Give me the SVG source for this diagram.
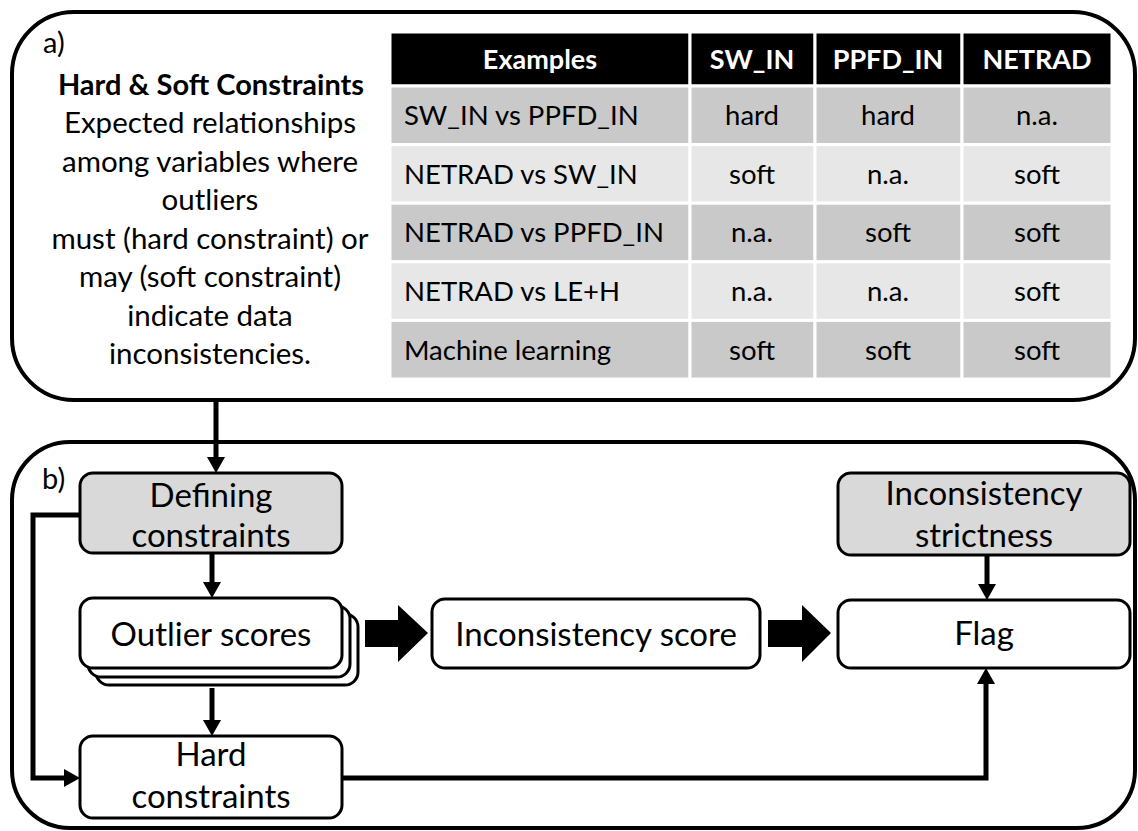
<svg xmlns="http://www.w3.org/2000/svg" width="1138" height="831" viewBox="0 0 1138 831">
  <defs>
    <style>
      text { font-family: Lato, "Liberation Sans", sans-serif; fill: #000; }
      .panel { fill: #fff; stroke: #000; stroke-width: 4; }
      .lbl { font-size: 29px; }
      .desc { font-size: 29.5px; text-anchor: middle; }
      .desc-b { font-weight: bold; font-size: 29px; }
      .th { fill: #000; stroke: #fff; stroke-width: 3; }
      .dark { fill: #c9c9c9; stroke: #fff; stroke-width: 3; }
      .light { fill: #e7e7e7; stroke: #fff; stroke-width: 3; }
      .tht { font-size: 27px; font-weight: bold; fill: #fff; text-anchor: middle; }
      .tdl { font-size: 27.5px; }
      .tdc { font-size: 27.5px; text-anchor: middle; }
      .box { fill: #fff; stroke: #000; stroke-width: 3; }
      .box-in { fill: #d9d9d9; stroke: #000; stroke-width: 3; }
      .nt { font-size: 33px; text-anchor: middle; }
      .conn { fill: none; stroke: #000; stroke-width: 5; }
      .block { fill: #000; }
    </style>
    <marker id="head" markerUnits="userSpaceOnUse" markerWidth="18" markerHeight="18" refX="0" refY="9" orient="auto">
      <path d="M0,0 L16,9 L0,18 Z" fill="#000"/>
    </marker>
  </defs>

  <!-- Panel a: constraint definitions -->
  <g id="panel-a">
    <rect class="panel" x="12" y="12" width="1123" height="388" rx="62" ry="62"/>
    <text class="lbl" x="43" y="53">a)</text>
    <text class="desc desc-b" x="211" y="95">Hard &amp; Soft Constraints</text>
    <text class="desc" x="210" y="133">Expected relationships</text>
    <text class="desc" x="210" y="171.5">among variables where</text>
    <text class="desc" x="210" y="210">outliers</text>
    <text class="desc" x="210" y="248.5">must (hard constraint) or</text>
    <text class="desc" x="210" y="287">may (soft constraint)</text>
    <text class="desc" x="210" y="325.5">indicate data</text>
    <text class="desc" x="210" y="364">inconsistencies.</text>
  </g>

  <!-- Examples table -->
  <g id="table">
    <rect class="th" x="390" y="32" width="300" height="54"/>
    <rect class="th" x="690" y="32" width="125" height="54"/>
    <rect class="th" x="815" y="32" width="147" height="54"/>
    <rect class="th" x="962" y="32" width="150" height="54"/>
    <text class="tht" x="540" y="69">Examples</text>
    <text class="tht" x="752" y="69">SW_IN</text>
    <text class="tht" x="888" y="69">PPFD_IN</text>
    <text class="tht" x="1037" y="69">NETRAD</text>

    <rect class="dark" x="390" y="86" width="300" height="58.6"/>
    <rect class="dark" x="690" y="86" width="125" height="58.6"/>
    <rect class="dark" x="815" y="86" width="147" height="58.6"/>
    <rect class="dark" x="962" y="86" width="150" height="58.6"/>
    <text class="tdl" x="404" y="125">SW_IN vs PPFD_IN</text>
    <text class="tdc" x="752" y="125">hard</text>
    <text class="tdc" x="888" y="125">hard</text>
    <text class="tdc" x="1037" y="125">n.a.</text>

    <rect class="light" x="390" y="144.6" width="300" height="58.6"/>
    <rect class="light" x="690" y="144.6" width="125" height="58.6"/>
    <rect class="light" x="815" y="144.6" width="147" height="58.6"/>
    <rect class="light" x="962" y="144.6" width="150" height="58.6"/>
    <text class="tdl" x="404" y="183.5">NETRAD vs SW_IN</text>
    <text class="tdc" x="752" y="183.5">soft</text>
    <text class="tdc" x="888" y="183.5">n.a.</text>
    <text class="tdc" x="1037" y="183.5">soft</text>

    <rect class="dark" x="390" y="203.2" width="300" height="58.6"/>
    <rect class="dark" x="690" y="203.2" width="125" height="58.6"/>
    <rect class="dark" x="815" y="203.2" width="147" height="58.6"/>
    <rect class="dark" x="962" y="203.2" width="150" height="58.6"/>
    <text class="tdl" x="404" y="242">NETRAD vs PPFD_IN</text>
    <text class="tdc" x="752" y="242">n.a.</text>
    <text class="tdc" x="888" y="242">soft</text>
    <text class="tdc" x="1037" y="242">soft</text>

    <rect class="light" x="390" y="261.8" width="300" height="58.6"/>
    <rect class="light" x="690" y="261.8" width="125" height="58.6"/>
    <rect class="light" x="815" y="261.8" width="147" height="58.6"/>
    <rect class="light" x="962" y="261.8" width="150" height="58.6"/>
    <text class="tdl" x="404" y="301">NETRAD vs LE+H</text>
    <text class="tdc" x="752" y="301">n.a.</text>
    <text class="tdc" x="888" y="301">n.a.</text>
    <text class="tdc" x="1037" y="301">soft</text>

    <rect class="dark" x="390" y="320.4" width="300" height="58.6"/>
    <rect class="dark" x="690" y="320.4" width="125" height="58.6"/>
    <rect class="dark" x="815" y="320.4" width="147" height="58.6"/>
    <rect class="dark" x="962" y="320.4" width="150" height="58.6"/>
    <text class="tdl" x="404" y="359.5">Machine learning</text>
    <text class="tdc" x="752" y="359.5">soft</text>
    <text class="tdc" x="888" y="359.5">soft</text>
    <text class="tdc" x="1037" y="359.5">soft</text>
  </g>

  <!-- Panel b: flagging workflow -->
  <g id="panel-b">
    <rect class="panel" x="12" y="442" width="1123" height="386" rx="58" ry="58"/>
    <text class="lbl" x="42" y="489">b)</text>
  </g>

  <g id="defining-constraints">
    <rect class="box-in" x="80" y="473" width="262" height="80" rx="13"/>
    <text class="nt" x="211" y="507">Defining</text>
    <text class="nt" x="211" y="547">constraints</text>
  </g>

  <g id="outlier-scores">
    <rect class="box" x="96" y="614" width="262" height="71" rx="13"/>
    <rect class="box" x="88" y="606" width="262" height="71" rx="13"/>
    <rect class="box" x="80" y="598" width="262" height="70" rx="13"/>
    <text class="nt" x="211" y="646">Outlier scores</text>
  </g>

  <g id="hard-constraints">
    <rect class="box" x="80" y="736" width="262" height="82" rx="13"/>
    <text class="nt" x="211" y="766">Hard</text>
    <text class="nt" x="211" y="808">constraints</text>
  </g>

  <g id="inconsistency-score">
    <rect class="box" x="432" y="599" width="328" height="69" rx="13"/>
    <text class="nt" x="596" y="646">Inconsistency score</text>
  </g>

  <g id="inconsistency-strictness">
    <rect class="box-in" x="838" y="473" width="292" height="82" rx="13"/>
    <text class="nt" x="984" y="505">Inconsistency</text>
    <text class="nt" x="984" y="547">strictness</text>
  </g>

  <g id="flag">
    <rect class="box" x="838" y="600" width="292" height="68" rx="13"/>
    <text class="nt" x="984" y="645">Flag</text>
  </g>

  <!-- Connectors -->
  <g id="connectors">
    <path class="conn" d="M216,400 V457" marker-end="url(#head)"/>
    <path class="conn" d="M212,553 V582" marker-end="url(#head)"/>
    <path class="conn" d="M212,688 V720" marker-end="url(#head)"/>
    <path class="conn" d="M80,515 H33 V778 H64" marker-end="url(#head)"/>
    <path class="conn" d="M342,778 H986 V684" marker-end="url(#head)"/>
    <path class="conn" d="M987,555 V584" marker-end="url(#head)"/>
    <polygon class="block" points="365,620 398,620 398,605 428,633 398,662 398,647 365,647"/>
    <polygon class="block" points="768,620 802,620 802,605 831,633 802,662 802,647 768,647"/>
  </g>
</svg>
